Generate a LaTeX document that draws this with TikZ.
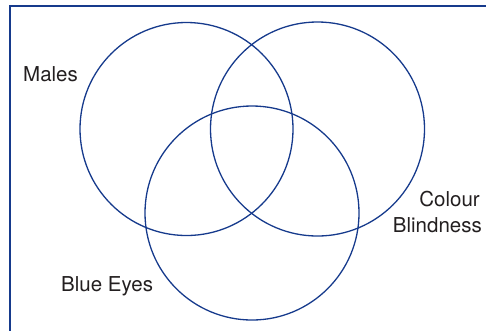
\documentclass[tikz,border=0pt]{standalone}
\usepackage{fontspec}
\setmainfont{TeX Gyre Heros}
\definecolor{vennblue}{RGB}{22,58,140}
\definecolor{txtgray}{RGB}{35,31,32}
\begin{document}
\begin{tikzpicture}[x=1pt,y=-1pt,
  setcircle/.style={draw=vennblue,line width=1.3pt},
  frameline/.style={draw=vennblue,line width=2pt},
  lbl/.style={inner sep=0pt,text=txtgray,font=\fontsize{20.5}{24}\selectfont}]
\useasboundingbox (0,0) rectangle (486,330);
\draw[frameline] (10,331) -- (10,5.5) -- (487,5.5);
\node[setcircle,circle,minimum size=213pt,inner sep=0pt] (males) at (186.5,129) {};
\node[setcircle,circle,minimum size=214pt,inner sep=0pt] (colour) at (317.5,129) {};
\node[setcircle,circle,minimum size=214pt,inner sep=0pt] (blue) at (252,213) {};
\node[lbl,anchor=base west] (lmales) at (23,81) {Males};
\node[lbl,anchor=base west] (lblue) at (61,291.5) {Blue Eyes};
\node[lbl,anchor=base east] (lcb1) at (480,206.5) {Colour};
\node[lbl,anchor=base east] (lcb2) at (482,232) {Blindness};
\end{tikzpicture}
\end{document}
